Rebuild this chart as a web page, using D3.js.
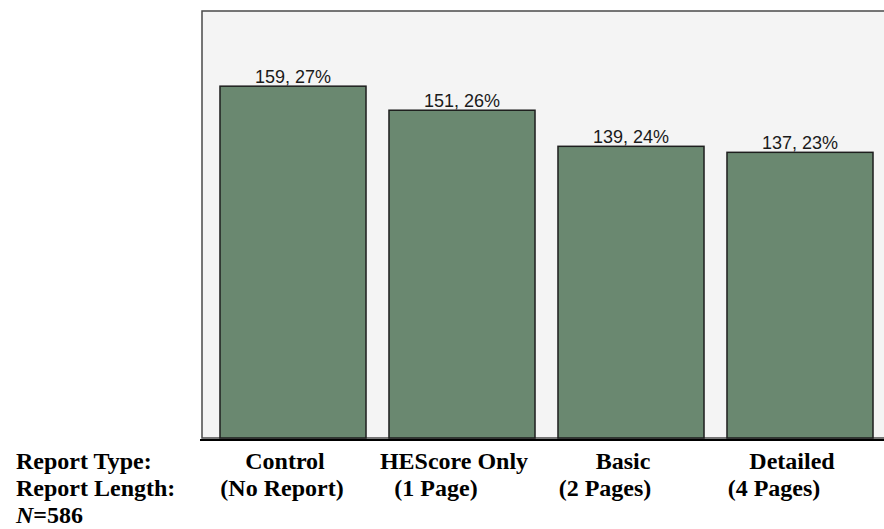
<!DOCTYPE html>
<html>
<head>
<meta charset="utf-8">
<script src="https://cdn.jsdelivr.net/npm/d3@7"></script>
<style>
  html, body { margin: 0; padding: 0; background: #ffffff; }
  svg { display: block; }
</style>
</head>
<body>
<svg id="chart" width="884" height="529"></svg>
<script>
// ---- data ----
const categories = ["Control", "HEScore Only", "Basic", "Detailed"];
const reportLengths = ["(No Report)", "(1 Page)", "(2 Pages)", "(4 Pages)"];
const counts = [159, 151, 139, 137];
const percents = ["27%", "26%", "24%", "23%"];
const rowLabels = ["Report Type:", "Report Length:"];
const sampleSize = 586;

// ---- layout ----
const W = 884, H = 529;
const plot = { left: 202, right: 890, top: 11, bottom: 438 };

const svg = d3.select("#chart");

const x = d3.scaleBand()
  .domain(categories)
  .range([208.5, 884.5])
  .paddingInner(0.136)
  .paddingOuter(0.068);

const y = d3.scaleLinear()
  .domain([42, 184])
  .range([plot.bottom, plot.top]);

// plot background + frame
svg.append("rect")
  .attr("x", plot.left).attr("y", plot.top)
  .attr("width", plot.right - plot.left).attr("height", plot.bottom - plot.top)
  .attr("fill", "#f4f4f4")
  .attr("stroke", "#4a4a4a").attr("stroke-width", 1.5);

// bars
const data = categories.map((c, i) => ({ c, v: counts[i], p: percents[i], len: reportLengths[i] }));

svg.append("g").selectAll("rect")
  .data(data).join("rect")
  .attr("x", d => x(d.c))
  .attr("y", d => y(d.v))
  .attr("width", x.bandwidth())
  .attr("height", d => y.range()[0] - y(d.v))
  .attr("fill", "#6a8870")
  .attr("stroke", "#1e1e1e")
  .attr("stroke-width", 1.5);

// value labels
svg.append("g").selectAll("text")
  .data(data).join("text")
  .attr("x", d => x(d.c) + x.bandwidth() / 2)
  .attr("y", d => y(d.v) - 3)
  .attr("text-anchor", "middle")
  .attr("font-family", "'Liberation Sans', Arial, Helvetica, sans-serif")
  .attr("font-size", 18)
  .attr("fill", "#1a1a1a")
  .text(d => `${d.v}, ${d.p}`);

// bottom axis line
svg.append("line")
  .attr("x1", 200).attr("x2", W)
  .attr("y1", 440).attr("y2", 440)
  .attr("stroke", "#000").attr("stroke-width", 2.2);

// bottom labels
const serif = "'Liberation Serif', 'Times New Roman', Times, serif";
const fs = 24;
const row1 = 469, row2 = 496, row3 = 523;

svg.append("text")
  .attr("x", 16).attr("y", row1)
  .attr("font-family", serif).attr("font-weight", "bold").attr("font-size", fs)
  .text(rowLabels[0]);
svg.append("text")
  .attr("x", 16).attr("y", row2)
  .attr("font-family", serif).attr("font-weight", "bold").attr("font-size", fs)
  .text(rowLabels[1]);
const nt = svg.append("text")
  .attr("x", 16).attr("y", row3)
  .attr("font-family", serif).attr("font-weight", "bold").attr("font-size", fs);
nt.append("tspan").attr("font-style", "italic").text("N");
nt.append("tspan").text("=" + sampleSize);

svg.append("g").selectAll("text")
  .data(data).join("text")
  .attr("x", d => x(d.c) + x.bandwidth() / 2 - 8)
  .attr("y", row1)
  .attr("text-anchor", "middle")
  .attr("font-family", serif).attr("font-weight", "bold").attr("font-size", fs)
  .text(d => d.c);

svg.append("g").selectAll("text")
  .data(data).join("text")
  .attr("x", (d, i) => x(d.c) + x.bandwidth() / 2 - (i === 0 ? 11 : 26))
  .attr("y", row2)
  .attr("text-anchor", "middle")
  .attr("font-family", serif).attr("font-weight", "bold").attr("font-size", fs)
  .text(d => d.len);
</script>
</body>
</html>
